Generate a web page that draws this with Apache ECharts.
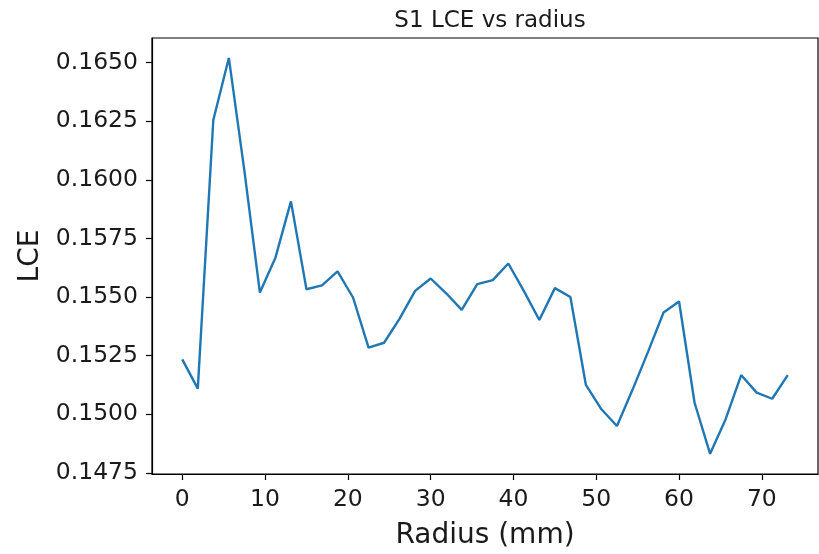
<!DOCTYPE html>
<html>
<head>
<meta charset="utf-8">
<script src="https://cdn.jsdelivr.net/npm/echarts@6/dist/echarts.min.js"></script>
<style>
  html, body { margin: 0; padding: 0; background: #fff; }
  #chart { width: 819px; height: 554px; }
</style>
</head>
<body>
<div id="chart"></div>
<script>
// Radius positions (mm) and the LCE measured at each one
const radius = [0, 1.875, 3.75, 5.625, 7.5, 9.375, 11.25, 13.125, 15, 16.875,
  18.75, 20.625, 22.5, 24.375, 26.25, 28.125, 30, 31.875, 33.75, 35.625,
  37.5, 39.375, 41.25, 43.125, 45, 46.875, 48.75, 50.625, 52.5, 54.375,
  56.25, 58.125, 60, 61.875, 63.75, 65.625, 67.5, 69.375, 71.25, 73.125];
const lce = [0.15234, 0.15109, 0.16255, 0.16520, 0.16039, 0.15519, 0.15668, 0.15908, 0.15533, 0.15550,
  0.15609, 0.15498, 0.15284, 0.15305, 0.15408, 0.15526, 0.15579, 0.15516, 0.15445, 0.15555,
  0.15572, 0.15643, 0.15526, 0.15402, 0.15538, 0.15500, 0.15125, 0.15021, 0.14950, 0.15104,
  0.15266, 0.15434, 0.15481, 0.15049, 0.14831, 0.14979, 0.15167, 0.15092, 0.15066, 0.15167];

// Tick positions
const xTicks = [0, 10, 20, 30, 40, 50, 60, 70];
const yTicks = [0.1475, 0.1500, 0.1525, 0.1550, 0.1575, 0.1600, 0.1625, 0.1650];

const font = 'DejaVu Sans';
const ink = '#1a1a1a';

const chart = echarts.init(document.getElementById('chart'), null, { renderer: 'canvas' });
chart.setOption({
  animation: false,
  backgroundColor: '#ffffff',
  title: {
    text: 'S1 LCE vs radius',
    left: 485, top: 5, textAlign: 'center',
    textStyle: { fontFamily: font, fontSize: 23, fontWeight: 'normal', color: ink }
  },
  grid: {
    left: 152, right: 1, top: 38, bottom: 80,
    outerBoundsMode: 'none',
    containLabel: false,
    show: true, borderColor: '#000', borderWidth: 1.2, backgroundColor: 'transparent'
  },
  xAxis: {
    type: 'value',
    min: -3.656, max: 76.78,
    name: 'Radius (mm)',
    nameLocation: 'middle',
    nameGap: 48,
    nameTextStyle: { fontFamily: font, fontSize: 28, color: ink },
    axisLine: { show: true, onZero: false, lineStyle: { color: '#000', width: 1.2 } },
    axisTick: { show: true, length: 6, customValues: xTicks, lineStyle: { color: '#000', width: 1.2 } },
    axisLabel: { customValues: xTicks, margin: 14, fontFamily: font, fontSize: 23.5, color: ink },
    splitLine: { show: false }
  },
  yAxis: {
    type: 'value',
    min: 0.14745, max: 0.16605,
    name: 'LCE',
    nameLocation: 'middle',
    nameRotate: 90,
    nameGap: 107,
    nameTextStyle: { fontFamily: font, fontSize: 28, color: ink },
    axisLine: { show: true, onZero: false, lineStyle: { color: '#000', width: 1.2 } },
    axisTick: { show: true, length: 6, customValues: yTicks, lineStyle: { color: '#000', width: 1.2 } },
    axisLabel: {
      customValues: yTicks, margin: 14, fontFamily: font, fontSize: 23.5, color: ink,
      formatter: v => v.toFixed(4)
    },
    splitLine: { show: false }
  },
  series: [{
    type: 'line',
    data: radius.map((r, i) => [r, lce[i]]),
    showSymbol: false,
    lineStyle: { color: '#1f77b4', width: 2.4 },
    itemStyle: { color: '#1f77b4' }
  }]
});
</script>
</body>
</html>
